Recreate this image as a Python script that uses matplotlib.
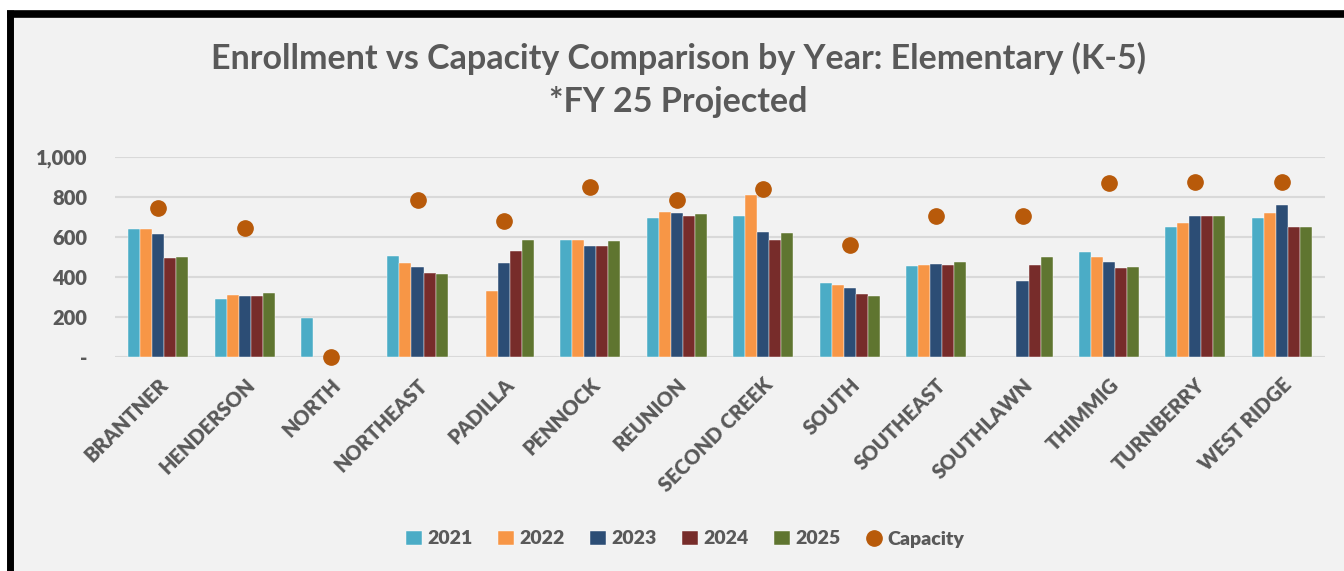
import numpy as np
import matplotlib.pyplot as plt
from matplotlib.patches import Rectangle
from matplotlib.ticker import FuncFormatter

plt.rcParams['font.family'] = ['Lato', 'DejaVu Sans']
plt.rcParams['font.weight'] = 'heavy'

schools = ["BRANTNER", "HENDERSON", "NORTH", "NORTHEAST", "PADILLA", "PENNOCK",
           "REUNION", "SECOND CREEK", "SOUTH", "SOUTHEAST", "SOUTHLAWN",
           "THIMMIG", "TURNBERRY", "WEST RIDGE"]
years = ["2021", "2022", "2023", "2024", "2025"]

# enrollment per year (nan = no data)
e2021 = [642, 289, 194, 503, np.nan, 585, 696, 704, 368, 455, np.nan, 523, 650, 696]
e2022 = [642, 309, np.nan, 470, 328, 587, 726, 809, 361, 461, np.nan, 500, 670, 719]
e2023 = [615, 304, np.nan, 448, 470, 555, 721, 625, 343, 465, 378, 473, 704, 762]
e2024 = [493, 303, np.nan, 418, 532, 555, 704, 585, 316, 460, 460, 443, 704, 652]
e2025 = [498, 318, np.nan, 417, 585, 582, 717, 622, 304, 473, 498, 448, 707, 652]
capacity = [746, 644, 0, 786, 682, 851, 783, 838, 562, 706, 706, 868, 873, 876]

colors = ["#4BACC6", "#F79646", "#2C4D75", "#772C2A", "#5F7530"]
cap_color = "#B85A0A"
text_color = "#595959"
bg = "#F2F2F2"

fig = plt.figure(figsize=(13.44, 5.71), dpi=100)
fig.patch.set_facecolor("white")
# grey chart area with black border on top and left
fig.patches.append(Rectangle((7 / 1344, 0), 1 - 7 / 1344, 1 - 10 / 571,
                             transform=fig.transFigure, facecolor=bg,
                             edgecolor="none", zorder=-5))
fig.add_artist(plt.Line2D([7 / 1344, 1], [1 - 13.5 / 571, 1 - 13.5 / 571],
                          transform=fig.transFigure, color="black", lw=5.5,
                          solid_capstyle="butt", zorder=-4))
fig.add_artist(plt.Line2D([10 / 1344, 10 / 1344], [0, 1 - 10 / 571],
                          transform=fig.transFigure, color="black", lw=5,
                          solid_capstyle="butt", zorder=-4))

ax = fig.add_axes([115 / 1344, 1 - 357 / 571, 1210 / 1344, 200 / 571])
ax.patch.set_alpha(0)

x = np.arange(len(schools))
w = 0.139
series = [e2021, e2022, e2023, e2024, e2025]
for i, (vals, c, yr) in enumerate(zip(series, colors, years)):
    ax.bar(x + (i - 2) * w, vals, width=w, color=c, label=yr,
           edgecolor="white", linewidth=0.3, zorder=3)
ax.plot(x, capacity, "o", color=cap_color, markersize=11, label="Capacity",
        zorder=4, clip_on=False)

ax.set_xlim(-0.5, len(schools) - 0.5)
ax.set_ylim(0, 1000)
ax.set_yticks(range(0, 1001, 200))
ax.yaxis.set_major_formatter(FuncFormatter(lambda v, p: "-" if v == 0 else f"{int(v):,}"))
ax.grid(axis="y", color="#D9D9D9", lw=1.5, zorder=0)
for s in ax.spines.values():
    s.set_visible(False)
ax.tick_params(length=0, labelcolor=text_color)
ax.tick_params(axis="y", pad=20, labelsize=14.5)
ax.set_xticks(x)
ax.set_xticklabels(schools, rotation=45, ha="right", rotation_mode="anchor",
                   fontsize=14.5, color=text_color)
ax.tick_params(axis="x", pad=13)

fig.text(0.505, 1 - 58 / 571, "Enrollment vs Capacity Comparison by Year: Elementary (K-5)",
         ha="center", va="center", fontsize=24.5, fontweight="bold", color=text_color)
fig.text(0.505, 1 - 102 / 571, "*FY 25 Projected",
         ha="center", va="center", fontsize=24.5, fontweight="bold", color=text_color)

handles, labels = ax.get_legend_handles_labels()
order = [1, 2, 3, 4, 5, 0]
leg = fig.legend([handles[i] for i in order], [labels[i] for i in order],
                 loc="center", bbox_to_anchor=(0.51, 1 - 539 / 571),
                 ncol=6, frameon=False, fontsize=14, handlelength=0.8,
                 handletextpad=0.3, columnspacing=1.3)
for t in leg.get_texts():
    t.set_color(text_color)

fig.savefig("out.png", dpi=100, facecolor=fig.get_facecolor())
